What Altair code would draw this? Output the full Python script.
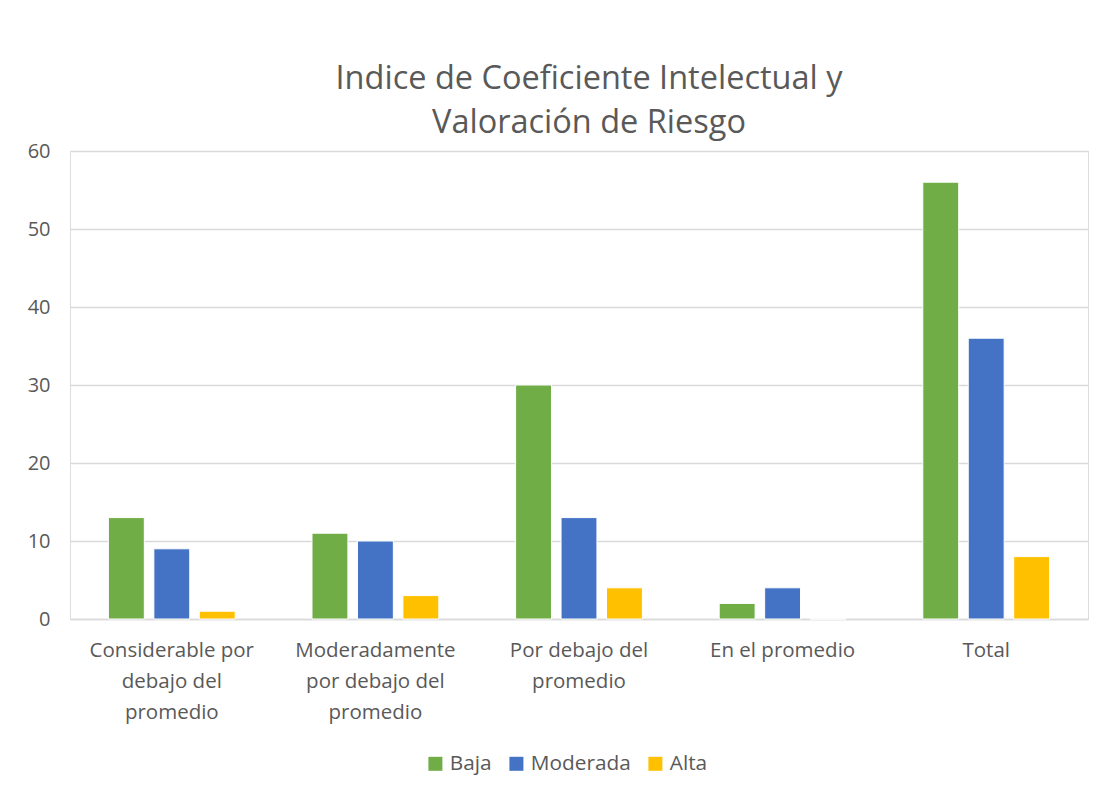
import altair as alt
import pandas as pd

categories = [
    "Considerable por debajo del promedio",
    "Moderadamente por debajo del promedio",
    "Por debajo del promedio",
    "En el promedio",
    "Total",
]
label_lines = [
    ["Considerable por", "debajo del", "promedio"],
    ["Moderadamente", "por debajo del", "promedio"],
    ["Por debajo del", "promedio"],
    ["En el promedio"],
    ["Total"],
]
series = ["Baja", "Moderada", "Alta"]
colors = ["#70AD47", "#4472C4", "#FFC000"]
baja = [13, 11, 30, 2, 56]
moderada = [9, 10, 13, 4, 36]
alta = [1, 3, 4, 0, 8]

rows = []
for i, c in enumerate(categories):
    for s, vals in zip(series, [baja, moderada, alta]):
        rows.append({"cat": c, "serie": s, "valor": vals[i]})
df = pd.DataFrame(rows)

expr = "''"
for c, lines in reversed(list(zip(categories, label_lines))):
    arr = "[" + ",".join("'" + l + "'" for l in lines) + "]"
    expr = f"datum.value == '{c}' ? {arr} : ({expr})"

FONT = "Open Sans"
GREY = "#595959"

chart = alt.Chart(df).mark_bar(stroke="white", strokeWidth=1).encode(
    x=alt.X("cat:N", sort=categories, title=None,
            scale=alt.Scale(paddingInner=0, paddingOuter=0),
            axis=alt.Axis(labelExpr=expr, labelAngle=0, labelFontSize=20.5,
                          labelColor=GREY, labelFont=FONT, ticks=False,
                          domainColor="#D9D9D9", domainWidth=1.5,
                          labelPadding=21, labelLineHeight=31, labelLimit=300)),
    xOffset=alt.XOffset("serie:N", sort=series,
                        scale=alt.Scale(paddingInner=0.21, paddingOuter=0.845)),
    y=alt.Y("valor:Q", title=None,
            scale=alt.Scale(domain=[0, 60]),
            axis=alt.Axis(values=[0, 10, 20, 30, 40, 50, 60], labelFontSize=20,
                          labelColor=GREY, labelFont=FONT, ticks=False, domain=False,
                          gridColor="#D9D9D9", gridWidth=1.3, labelPadding=20)),
    color=alt.Color("serie:N", sort=series,
                    scale=alt.Scale(domain=series, range=colors),
                    legend=alt.Legend(title=None, orient="none", direction="horizontal",
                                      legendX=355, legendY=602,
                                      symbolType="square", symbolSize=196,
                                      symbolStrokeWidth=0,
                                      labelFontSize=20.8, labelColor=GREY,
                                      labelFont=FONT, columnPadding=14,
                                      labelOffset=4)),
).properties(
    width=1018,
    height=468,
    autosize=alt.AutoSizeParams(type="none"),
    padding={"left": 62, "top": 143, "right": 20, "bottom": 170},
    title=alt.Title(["Indice de Coeficiente Intelectual  y", "Valoración de Riesgo"],
                    font=FONT, fontSize=32.5, fontWeight="normal", color=GREY,
                    anchor="middle", lineHeight=44, offset=2, dx=10),
).configure_view(stroke=None).configure(background="white")

chart.save("out.html", embed_options={"renderer": "svg", "actions": False})
